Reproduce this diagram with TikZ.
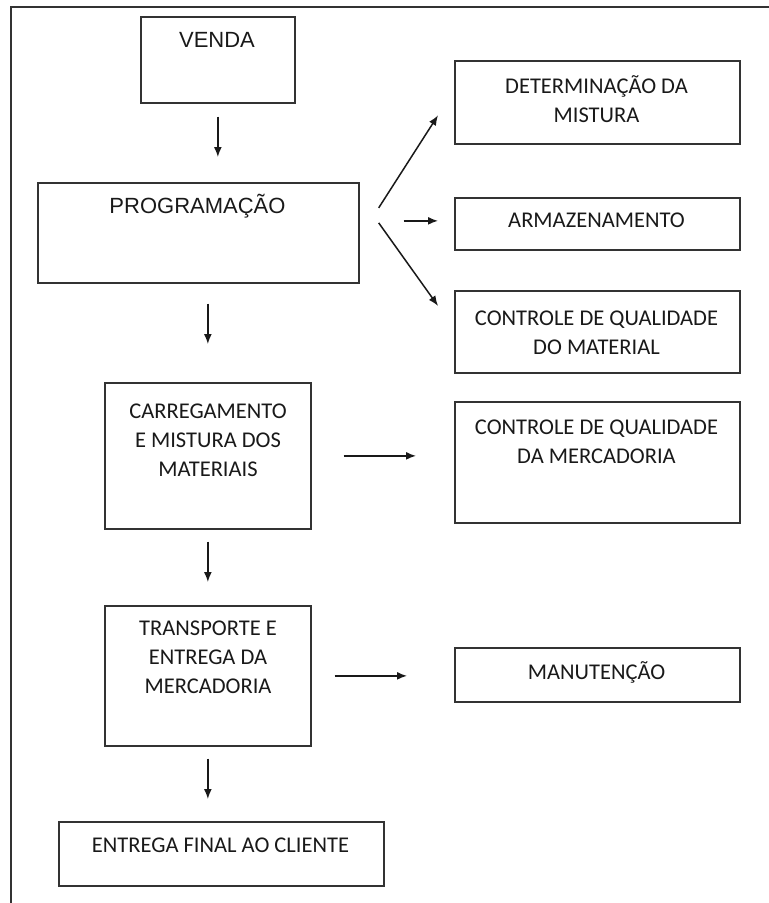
\documentclass[tikz,border=0pt]{standalone}
\usepackage{fontspec}
\setmainfont{Carlito}
\newfontfamily\arialfont{Liberation Sans}
\usetikzlibrary{arrows.meta}

\begin{document}
\begin{tikzpicture}[x=1pt, y=-1pt, >={Latex[length=10pt,width=8pt]}]
    \tikzset{
        box/.style={draw=black!80, line width=1.7pt, anchor=north west, inner sep=0pt},
        lbl/.style={font=\fontsize{22.5}{29}\selectfont, align=center, inner sep=0pt, anchor=base, text=black!90},
        ttl/.style={font=\arialfont\fontsize{22}{26}\selectfont, inner sep=0pt, anchor=base, text=black!90},
        flow/.style={->, line width=1.5pt, draw=black!90}
    }
    \useasboundingbox (0,0) rectangle (769,903);

    % frame
    \draw[line width=1.6pt, black!80] (11,903) |- (769,7);

    % main column
    \node[box, minimum width=154pt, minimum height=86pt] (venda) at (140,16) {};
    \node[ttl] (venda-t) at (217,47) {VENDA};

    \node[box, minimum width=321pt, minimum height=100pt] (prog) at (37,182) {};
    \node[ttl] (prog-t) at (197.5,213) {PROGRAMAÇÃO};

    \node[box, minimum width=206pt, minimum height=146pt] (carreg) at (104,382) {};
    \node[lbl] (carreg-t) at (208,476) {CARREGAMENTO\\E MISTURA DOS\\MATERIAIS};

    \node[box, minimum width=206pt, minimum height=140pt] (transp) at (104,605) {};
    \node[lbl] (transp-t) at (208,693) {TRANSPORTE E\\ENTREGA DA\\MERCADORIA};

    \node[box, minimum width=325pt, minimum height=64pt] (final) at (58,821) {};
    \node[lbl] (final-t) at (220.5,852) {ENTREGA FINAL AO CLIENTE};

    % right column
    \node[box, minimum width=285pt, minimum height=83pt] (det) at (454,60) {};
    \node[lbl] (det-t) at (596.5,122) {DETERMINAÇÃO DA\\MISTURA};

    \node[box, minimum width=285pt, minimum height=52pt] (armaz) at (454,197) {};
    \node[lbl] (armaz-t) at (596.5,227) {ARMAZENAMENTO};

    \node[box, minimum width=285pt, minimum height=82pt] (mater) at (454,290) {};
    \node[lbl] (mater-t) at (596.5,354) {CONTROLE DE QUALIDADE\\DO MATERIAL};

    \node[box, minimum width=285pt, minimum height=121pt] (merc) at (454,401) {};
    \node[lbl] (merc-t) at (596.5,463) {CONTROLE DE QUALIDADE\\DA MERCADORIA};

    \node[box, minimum width=285pt, minimum height=54pt] (manut) at (454,647) {};
    \node[lbl] (manut-t) at (596.5,679) {MANUTENÇÃO};

    % arrows down
    \draw[flow, shorten <=13pt, shorten >=25pt] (venda.south) -- (venda.south |- prog.north);
    \draw[flow, shorten <=20pt, shorten >=38pt] (prog.south -| carreg.north) -- (carreg.north);
    \draw[flow, shorten <=12pt, shorten >=23pt] (carreg.south) -- (transp.north);
    \draw[flow, shorten <=12pt, shorten >=22pt] (transp.south) -- (transp.south |- final.north);

    % arrows from programacao
    \draw[flow] ([shift={(19,-25)}]prog.east) -- ([shift={(-16,13)}]det.west);
    \draw[flow] ([shift={(44,-12)}]prog.east) -- ([shift={(-16,-3)}]armaz.west);
    \draw[flow] ([shift={(19,-10)}]prog.east) -- ([shift={(-16,-26)}]mater.west);

    % arrows right
    \draw[flow, shorten <=32pt, shorten >=38pt] (carreg.east) -- (carreg.east -| merc.west);
    \draw[flow, shorten <=23pt, shorten >=47pt] (transp.east) -- (transp.east -| manut.west);
\end{tikzpicture}
\end{document}
